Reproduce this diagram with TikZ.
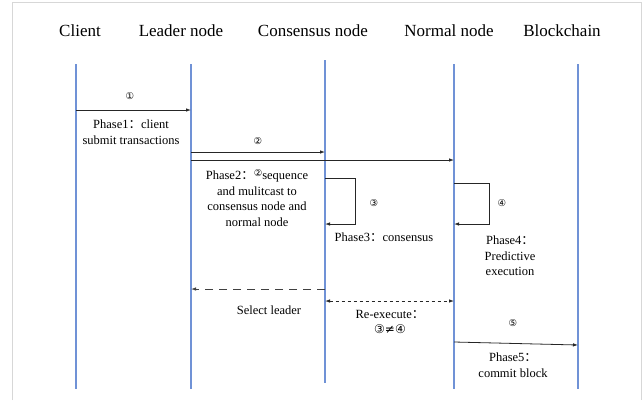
\documentclass[tikz,border=0pt]{standalone}
\usepackage{fontspec}
\setmainfont{Liberation Serif}
\newfontfamily\symfont{DejaVu Sans}
\newfontfamily\cjk{Noto Sans CJK SC}
\usetikzlibrary{arrows.meta}
\definecolor{lifeblue}{RGB}{112,146,214}
\definecolor{framegray}{RGB}{215,215,215}
\newcommand{\fcolon}{{\cjk ：}}
\newcommand{\circnum}[1]{{\symfont\fontsize{9.5}{10}\selectfont #1}}
\begin{document}
\begin{tikzpicture}
[x=1pt, y=-1pt,
 every node/.style={inner sep=0pt, font=\fontsize{12.5}{15.5}\selectfont},
 head/.style={font=\fontsize{17}{19}\selectfont},
 life/.style={lifeblue, line width=1.4pt},
 msg/.style={line width=0.8pt, color=black!85, -{Latex[length=5pt,width=3.5pt]}},
 lbl/.style={align=center}]
\useasboundingbox (0,0) rectangle (642,400);
\draw [framegray, line width=0.8pt] (12,400) -- (12,2) -- (641,2) -- (641,400);
% headers
\node (h1) [head] at (80, 31) {Client};
\node (h2) [head] at (181, 31) {Leader node};
\node (h3) [head] at (313, 31) {Consensus node};
\node (h4) [head] at (449, 31) {Normal node};
\node (h5) [head] at (562, 31) {Blockchain};
% lifelines
\coordinate (t1) at (76, 64);  \coordinate (b1) at (76, 389);
\coordinate (t2) at (191, 64); \coordinate (b2) at (191, 389);
\coordinate (t3) at (325, 60); \coordinate (b3) at (325, 383);
\coordinate (t4) at (454, 64); \coordinate (b4) at (454, 389);
\coordinate (t5) at (578, 64); \coordinate (b5) at (578, 389);
\foreach \i in {1,...,5} \draw [life] (t\i) -- (b\i);
% phase 1
\coordinate (c1) at (76, 110); \coordinate (l1) at (191, 110);
\draw [msg] (c1) -- (l1);
\node (n1) at (130, 96) {\circnum{①}};
\node (p1) [lbl] at (131, 132) {Phase1\fcolon client\\submit transactions};
% phase 2
\coordinate (l2) at (191, 152); \coordinate (s2) at (325, 152);
\coordinate (l3) at (191, 160); \coordinate (r3) at (454, 160);
\draw [msg] (l2) -- (s2);
\draw [msg] (l3) -- (r3);
\node (n2) at (258, 141) {\circnum{②}};
\node (p2) [lbl] at (257, 198) {Phase2\fcolon\raisebox{3pt}{\circnum{②}}sequence\\and mulitcast to\\consensus node and\\normal node};
% phase 3
\coordinate (a3) at (325, 178); \coordinate (e3) at (325, 224);
\draw [msg] (a3) -- ++(30,0) |- (e3);
\node (n3) at (374, 203) {\circnum{③}};
\node (p3) at (384, 237) {Phase3\fcolon consensus};
% phase 4
\coordinate (a4) at (454, 183); \coordinate (e4) at (454, 224);
\draw [msg] (a4) -- ++(35,0) |- (e4);
\node (n4) at (502, 203) {\circnum{④}};
\node (p4) [lbl] at (510, 256) {Phase4\fcolon\\Predictive\\execution};
% select leader
\coordinate (s6) at (325, 289); \coordinate (l6) at (191, 289);
\draw [msg, color=black!75, dash pattern=on 8pt off 6pt] (s6) -- (l6);
\node (p6) at (269, 310) {Select leader};
% re-execute
\coordinate (s7) at (325, 301); \coordinate (r7) at (454, 301);
\draw [msg, dash pattern=on 3pt off 3pt, {Latex[length=5pt,width=3.5pt]}-{Latex[length=5pt,width=3.5pt]}] (s7) -- (r7);
\node (p7) [lbl] at (390, 322) {Re-execute\fcolon\\{\symfont\fontsize{12}{13}\selectfont ③≠④}};
% phase 5
\coordinate (r8) at (454, 342); \coordinate (k8) at (578, 345);
\draw [msg] (r8) -- (k8);
\node (n8) at (513, 323) {\circnum{⑤}};
\node (p8) [lbl] at (513, 365) {Phase5\fcolon\\commit block};
\end{tikzpicture}
\end{document}
